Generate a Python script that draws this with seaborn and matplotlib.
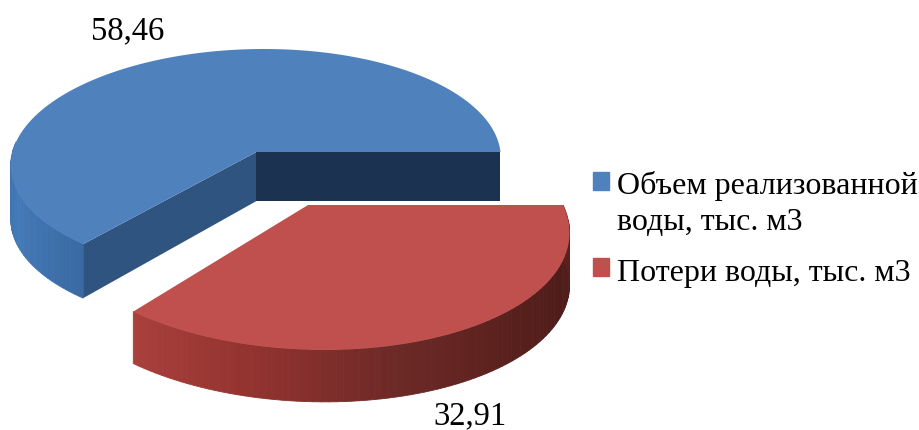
import matplotlib
matplotlib.use("Agg")
import matplotlib.pyplot as plt
from matplotlib.patches import Patch
import numpy as np
import seaborn as sns

labels = ["Объем реализованной\nводы, тыс. м3", "Потери воды, тыс. м3"]
values = [58.46, 32.91]
value_labels = ["58,46", "32,91"]

sns.set_theme(style="white")
plt.rcParams['font.family'] = ['Liberation Serif', 'DejaVu Serif']

colors = ["#4f81bd", "#c0504d"]
cut_colors = {"blue_a": "#1b3350", "blue_b": "#2f5480"}

# each slice seen in its own perspective, all in picture pixels
blue_view = dict(cx=256.5, cy=152, rx=244, ry=111.8, k=0.0854, skew=8)
red_view = dict(cx=308, cy=205, rx=255, ry=120.4, k=0.169, skew=-14)


def project(angles, cx, cy, rx, ry, k, skew):
	u = np.cos(angles)
	v = np.sin(angles)
	w = 1 + k * v
	return cx + (rx * u + skew * v) / w, cy - ry * v / w


def side(ax, view, a0, a1, palette, thick, n=90):
	# outer rim as thin quads so it can carry a gradient
	edges = np.linspace(a0, a1, n + 1)
	cols = sns.blend_palette(palette, n)
	for i in range(n):
		x, y = project(edges[i:i + 2], **view)
		ax.fill([x[0], x[1], x[1], x[0]], [y[0], y[1], y[1] + thick, y[0] + thick],
				color=cols[i], lw=0.6, zorder=2)


fig, ax = plt.subplots(figsize=(9.2, 4.3), dpi=100)
ax.set_position([0, 0, 1, 1])
ax.set_xlim(0, 920)
ax.set_ylim(430, 0)
ax.axis("off")

split = 2 * np.pi * values[0] / sum(values)
th_blue = np.linspace(0, split, 200)
th_red = np.linspace(split, 2 * np.pi, 120)

# blue slice
bcx, bcy = blue_view["cx"], blue_view["cy"]
bx, by = project(th_blue, **blue_view)
side(ax, blue_view, np.pi * 0.97, split, ["#3f6ea6", "#447ab8", "#3a6aa3"], 54, n=40)
# cut faces
ax.fill([bcx, bx[-1], bx[-1], bcx], [bcy, by[-1], by[-1] + 54, bcy + 49],
		color=cut_colors["blue_b"], lw=0, zorder=3)
ax.fill([bcx, bx[0], bx[0], bcx], [bcy, by[0], by[0] + 49, bcy + 49],
		color=cut_colors["blue_a"], lw=0, zorder=3)
ax.fill(np.r_[bcx, bx], np.r_[bcy, by], color=colors[0], lw=0, zorder=4)

# red slice
rx_, ry_ = project(th_red, **red_view)
side(ax, red_view, split, 2 * np.pi, ["#a9403c", "#92332f", "#6e2a27", "#5a211d", "#4e1c19", "#5e221f"], 52)
ax.fill(np.r_[red_view["cx"], rx_], np.r_[red_view["cy"], ry_], color=colors[1], lw=0, zorder=4)

ax.text(128, 39, value_labels[0], fontsize=23.5, ha="center", va="baseline", color="black")
ax.text(470, 424, value_labels[1], fontsize=23.5, ha="center", va="baseline", color="black")

handles = [Patch(color=c) for c in colors]
leg = ax.legend(handles, labels, loc="upper left", bbox_to_anchor=(593 / 920, 1 - 171 / 430),
		  frameon=False, fontsize=23, handlelength=0.5, handleheight=0.5,
		  handletextpad=0.25, borderpad=0, borderaxespad=0, labelspacing=0.7,
		  labelcolor="black")
for t in leg.get_texts():
	t.set_linespacing(1.3)
# the square sits on the first line of the wrapped label
squares = leg.get_patches()
squares[0].set_y(squares[0].get_y() + 16)
squares[1].set_y(squares[1].get_y() + 2)

fig.savefig("out.png", dpi=100)
